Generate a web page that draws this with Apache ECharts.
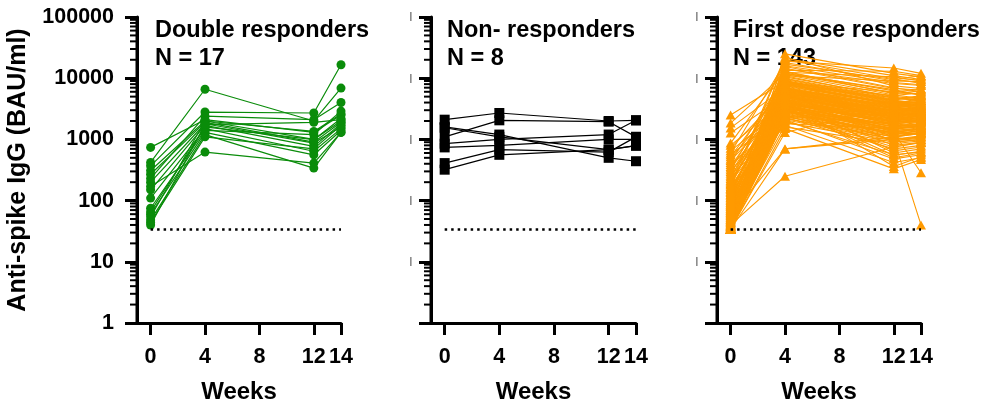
<!DOCTYPE html>
<html><head><meta charset="utf-8">
<script src="https://cdn.jsdelivr.net/npm/echarts@6/dist/echarts.min.js"></script>
<style>html,body{margin:0;padding:0;background:#fff}#c{width:985px;height:406px}</style>
</head><body><div id="c"></div>
<script>
// ---------- data ----------
const WEEKS = [0, 4, 12, 14];
const X_TICKS = [0, 4, 8, 12, 14];
const X_MIN = -1, X_MAX = 14;
const Y_MIN = 1, Y_MAX = 100000;
const Y_MINOR = [2,3,4,5,6,7,8,9,20,30,40,50,60,70,80,90,200,300,400,500,600,700,800,900,
  2000,3000,4000,5000,6000,7000,8000,9000,20000,30000,40000,50000,60000,70000,80000,90000];
const THRESHOLD = 33.8;
const TITLES = ['Double responders', 'Non- responders', 'First dose responders'];
const N_LABELS = ['N = 17', 'N = 8', 'N = 143'];
const X_NAME = 'Weeks';
const Y_NAME = 'Anti-spike IgG (BAU/ml)';

// Double responders (17)
const DOUBLE_W0  = [740, 420, 370, 310, 270, 230, 200, 170, 150, 110, 75, 66, 60, 54, 48, 44, 40];
const DOUBLE_W4  = [2100, 6600, 2800, 2000, 1900, 2400, 1800, 620, 1700, 1500, 1400, 1600, 1300, 2000, 1200, 1100, 1750];
const DOUBLE_W12 = [1300, 2000, 2700, 1000, 900, 2100, 870, 410, 770, 640, 1200, 990, 560, 1350, 340, 700, 1900];
const DOUBLE_W14 = [2500, 6900, 16600, 2000, 1900, 4000, 1600, 1300, 1800, 1500, 2900, 2200, 1400, 2600, 1300, 1700, 2100];

// Non-responders (8)
const NON_W0  = [2100, 1600, 1100, 850, 740, 1550, 410, 320];
const NON_W4  = [2700, 1200, 2050, 1000, 800, 1100, 680, 560];
const NON_W12 = [2000, 500, 1950, 1200, 1000, 680, 620, 680];
const NON_W14 = [2050, 440, 1100, 2050, 1000, 790, 1100, 790];

// First dose responders (143)
const FIRST_W0 = [
  2500,1850,1540,1270,870,800,720,650,600,560,520,480,450,420,390,360,340,320,300,280,
  260,245,230,215,200,190,180,170,160,155,150,142,135,128,122,116,110,105,100,96,
  92,88,85,82,79,76,73,70,68,66,64,62,60,58,56,54,52,50,49,48,
  47,46,45,44,43,42,41,40,40,39,39,38,38,37,37,36,36,36,35,35,
  35,35,34,34,34,34,34,34,34,34,34,34,34,34,34,34,34,34,34,34,
  34,34,34,34,34,34,34,34,34,34,34,34,34,34,34,34,34,34,34,34,
  36,38,40,42,44,47,50,53,57,61,65,70,75,81,88,94,102,112,125,140,160,185,210];
const FIRST_W4 = [
  9000,12000,7000,5200,14000,4200,6100,3300,18000,2600,8000,5600,3800,11000,2200,6800,4500,9800,3000,7400,
  1600,5000,13000,4000,2800,6400,8600,3500,21000,4800,2400,5900,7800,3200,10500,4400,1900,6600,3700,5400,
  15500,2900,8200,4100,2000,6200,12500,3400,5000,7000,2500,9200,4600,3100,5800,17000,3900,2300,6900,4300,
  8800,2700,5300,3600,11500,4900,1700,6300,3300,7600,2100,5100,9500,4000,2900,6000,14500,3500,4700,8400,
  2600,5500,3800,25000,7200,4200,2200,6500,3000,10000,5700,1500,4500,8000,3300,12000,5200,2800,6700,4100,
  9000,3600,5900,2400,7700,4400,16000,3100,5400,1300,6100,2500,19000,4800,3400,8300,700,5000,2100,11000,
  3900,6600,250,2700,9400,4300,13500,3700,700,7100,2300,5600,20000,3200,6900,1800,4600,12500,2900,8100,3800,22000,5300];
const FIRST_W12 = [
  4200,6500,3100,2400,8200,2000,2700,1600,9000,1300,3600,2900,1900,4800,1100,3400,2200,4500,1500,3800,
  850,2500,5600,1800,1200,3000,4000,1700,11000,2300,1000,2600,3900,1400,5000,2100,900,3300,1600,2700,
  7000,1250,3700,2000,560,2900,6200,1500,2300,3500,1100,4300,2200,1350,2800,9500,1800,700,3300,2100,
  4100,1200,2600,1700,5300,2400,420,3000,1500,3700,950,2500,4400,1900,1300,2900,6800,1600,2300,3800,
  1150,2600,1800,12000,3500,2000,1000,3100,1400,4700,2700,330,2200,3900,1450,5800,2500,1250,3200,1950,
  4300,800,2800,1800,4800,600,8500,2400,1300,3500,900,750,14700,3300,550,6000,1100,1700,480,9000,
  650,4000,750,3000,2000,360,13000,2600,1000,1900,1300,3700,9800,500,2100,1500,1100,10500,1800,5200,950,7500,2300];
const FIRST_W14 = [
  3800,5200,2900,2600,7600,2300,3100,1800,8800,1500,3300,2500,2100,4300,1300,3000,1900,5200,1700,3500,
  950,2700,6200,2000,1400,2700,3700,1600,9500,2500,1150,2400,4200,1500,4600,2200,1000,3600,1750,2400,
  6000,1350,3200,2300,620,3300,5400,1700,2100,3900,1250,4000,2500,1450,2600,11000,2000,800,3100,2400,
  3600,1300,2800,1900,4700,2200,500,3400,1600,4100,1050,2300,5000,2100,1200,3200,6400,1800,2000,3400,
  1300,2900,1700,10500,3700,2200,1100,2800,1550,4300,2500,470,2400,3500,1650,5500,2700,1400,3000,2100,
  3900,900,3000,2000,4400,700,7800,2600,1450,3200,1000,880,12000,2900,640,6600,1250,1600,560,9800,
  750,4400,900,2800,1900,520,11000,2400,40,2100,285,4800,8200,600,2500,1700,900,9000,2000,5800,1100,6800,2900];

// ---------- chart ----------
const FONT = '"Liberation Sans", Arial, Helvetica, sans-serif';
const GREEN = '#0a8c0a', ORANGE = '#ff9a00', BLACK = '#000000';
const GRIDS = [
  {left: 137, top: 17, width: 204, height: 306},
  {left: 431, top: 17, width: 205, height: 306},
  {left: 717, top: 17, width: 204, height: 306}
];
const TITLE_LEFT = [155, 447, 733];

const chart = echarts.init(document.getElementById('c'), null, {renderer: 'canvas'});

const grid = GRIDS.map(g => Object.assign({containLabel: false, outerBoundsMode: 'none'}, g));

const xAxis = GRIDS.map((g, i) => ({
  type: 'value', gridIndex: i, min: X_MIN, max: X_MAX,
  name: X_NAME, nameLocation: 'middle', nameGap: 57,
  nameTextStyle: {fontFamily: FONT, fontSize: 24, fontWeight: 'bold', color: '#000'},
  axisLine: {show: true, onZero: false, lineStyle: {color: '#000', width: 3}},
  axisTick: {show: true, inside: false, length: 12, lineStyle: {color: '#000', width: 3}, customValues: X_TICKS},
  axisLabel: {show: true, customValues: X_TICKS, margin: 23, fontFamily: FONT, fontSize: 21.5, fontWeight: 'bold', color: '#000'},
  splitLine: {show: false}
}));

const yAxis = GRIDS.map((g, i) => ({
  type: 'log', logBase: 10, gridIndex: i, min: Y_MIN, max: Y_MAX,
  name: i === 0 ? Y_NAME : '', nameLocation: 'middle', nameGap: 106, nameRotate: 90,
  nameTextStyle: {fontFamily: FONT, fontSize: 25, fontWeight: 'bold', color: '#000'},
  axisLine: {show: true, onZero: false, lineStyle: {color: '#000', width: 3}},
  axisTick: {show: true, inside: false, length: 12, lineStyle: {color: '#000', width: 3}},
  axisLabel: i === 0
    ? {show: true, margin: 23, fontFamily: FONT, fontSize: 21.5, fontWeight: 'bold', color: '#000',
       formatter: v => String(Math.round(v))}
    : {show: true, margin: 19, fontFamily: FONT, fontSize: 9, color: '#000',
       formatter: v => (Math.round(v) === 1 ? '' : '|')},
  splitLine: {show: false}, minorTick: {show: false}
}));

const series = [];
function addSubjects(gi, a, b, c, d, color, symbol, size, width) {
  for (let i = 0; i < a.length; i++) {
    series.push({
      type: 'line', xAxisIndex: gi, yAxisIndex: gi, silent: true, z: 3,
      data: [[WEEKS[0], a[i]], [WEEKS[1], b[i]], [WEEKS[2], c[i]], [WEEKS[3], d[i]]],
      symbol: symbol, symbolSize: size, showSymbol: true,
      lineStyle: {color: color, width: width}, itemStyle: {color: color, borderWidth: 0}
    });
  }
}
addSubjects(0, DOUBLE_W0, DOUBLE_W4, DOUBLE_W12, DOUBLE_W14, GREEN, 'circle', 9, 1.2);
addSubjects(1, NON_W0, NON_W4, NON_W12, NON_W14, BLACK, 'rect', 10, 1.2);
addSubjects(2, FIRST_W0, FIRST_W4, FIRST_W12, FIRST_W14, ORANGE, 'triangle', [10, 9], 1.1);

GRIDS.forEach((g, i) => {
  // threshold dotted line
  series.push({
    type: 'line', xAxisIndex: i, yAxisIndex: i, silent: true, z: 5,
    data: [[WEEKS[0], THRESHOLD], [WEEKS[WEEKS.length - 1], THRESHOLD]],
    symbol: 'none', lineStyle: {color: '#000', width: 2.5, type: [2.5, 4]}
  });
  // y axis spine, reinforced along the axis extent
  series.push({
    type: 'line', xAxisIndex: i, yAxisIndex: i, silent: true, z: 6, clip: false,
    data: [[X_MIN, Y_MIN], [X_MIN, Y_MAX]],
    symbol: 'none', lineStyle: {color: '#000', width: 3}
  });
  // log minor ticks
  series.push({
    type: 'custom', xAxisIndex: i, yAxisIndex: i, silent: true, clip: false, z: 6,
    data: Y_MINOR.map(v => [X_MIN, v]),
    renderItem: (params, api) => {
      const p = api.coord([api.value(0), api.value(1)]);
      return {type: 'line', shape: {x1: p[0] - 7, y1: p[1], x2: p[0], y2: p[1]},
              style: {stroke: '#000', lineWidth: 2}};
    }
  });
});

const title = TITLES.map((t, i) => ({
  text: t + '\n' + N_LABELS[i], left: TITLE_LEFT[i], top: 16, padding: 0, z: 0,
  textStyle: {fontFamily: FONT, fontSize: 23.5, fontWeight: 'bold', color: '#000', lineHeight: 28.5}
}));

chart.setOption({animation: false, backgroundColor: '#fff', title, grid, xAxis, yAxis, series});
</script></body></html>
